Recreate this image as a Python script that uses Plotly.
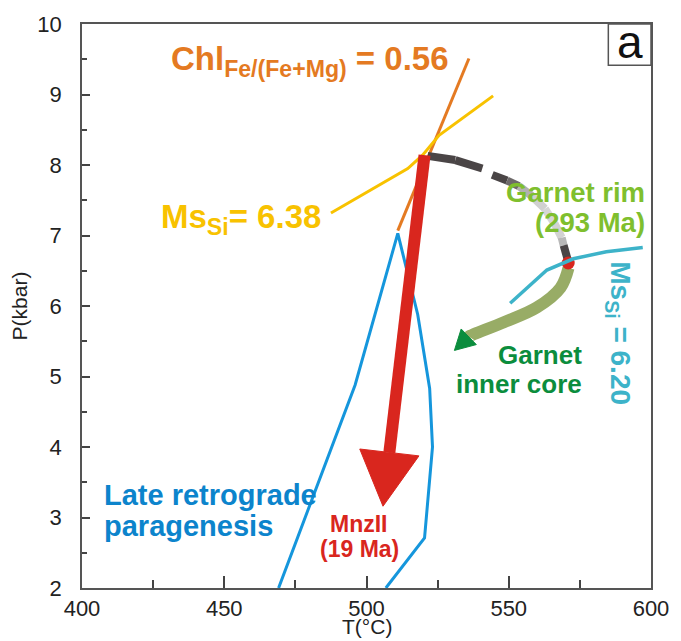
import numpy as np
import plotly.graph_objects as go

# ---- P–T data (T in °C, P in kbar) ----
chl_T = [511.0, 536.0]                      # Chl Fe/(Fe+Mg) = 0.56 isopleth
chl_P = [7.07, 9.51]

ms638_T = [487.5, 514.5, 519.7, 525.5, 544.5]   # Ms Si = 6.38 isopleth
ms638_P = [7.32, 7.95, 8.14, 8.42, 8.98]

ms620_T = [550.5, 563.4, 572.7, 584.3, 597.1]   # Ms Si = 6.20 isopleth
ms620_P = [6.04, 6.51, 6.67, 6.77, 6.83]

late_T = [469.1, 496.0, 511.0, 518.0, 522.2, 523.2, 520.4, 506.8]  # late retrograde field
late_P = [2.00, 4.88, 7.03, 5.88, 4.83, 4.00, 2.71, 2.00]

arc_T = [521.5, 531.2, 540.7, 544.2, 549.4, 553.6, 558.1, 562.7, 566.1, 568.6, 569.3, 570.7]  # garnet P–T loop
arc_P = [8.13, 8.07, 7.95, 7.86, 7.78, 7.70, 7.56, 7.38, 7.17, 6.97, 6.86, 6.66]

peak_T = [570.9]                            # garnet rim (293 Ma)
peak_P = [6.61]

core_T = [571.0, 568.2, 559.9, 548.3, 536.1, 530.9]   # toward garnet inner core
core_P = [6.54, 6.26, 5.98, 5.77, 5.57, 5.37]

mnz_T = [520.4, 505.8]                      # MnzII (19 Ma) path
mnz_P = [8.14, 3.16]

x_ticks = [400, 450, 500, 550, 600]
y_ticks = [2, 3, 4, 5, 6, 7, 8, 9, 10]

# ---- styling ----
W, H = 681, 641
ML, MR, MT, MB = 82, 26, 15, 53
XR = (400, 600)
YR = (2, 10)
PW, PH = W - ML - MR, H - MT - MB

ORANGE = '#e47a22'
YELLOW = '#f8c200'
CYAN = '#3db3c9'
BLUE = '#1596dc'
BLUE_TXT = '#0c84cc'
RED = '#d9261e'
OLIVE = '#98ac66'
DKGREEN = '#0b8d3d'
LTGREEN = '#7fbf2e'
DARK = '#4a4546'
FONT = 'Liberation Sans, Arial, sans-serif'

arc_seg_colors = [DARK, DARK, None, DARK, '#6e6a6a', '#b2b1b1', '#d0d0d0',
                  '#d6d6d6', '#d2d2d2', '#b8b8b8', DARK]


def to_px(t, p):
    return (ML + (t - XR[0]) / (XR[1] - XR[0]) * PW,
            MT + (YR[1] - p) / (YR[1] - YR[0]) * PH)


def to_data(x, y):
    return (XR[0] + (x - ML) / PW * (XR[1] - XR[0]),
            YR[1] - (y - MT) / PH * (YR[1] - YR[0]))


def arrow_parts(T, P, head_len, head_w):
    """Shaft (ending at head base) and triangular head polygon for a path."""
    tx, ty = to_px(T[-1], P[-1])
    qx, qy = to_px(T[-2], P[-2])
    d = np.array([tx - qx, ty - qy])
    d /= np.hypot(*d)
    n = np.array([-d[1], d[0]])
    base = np.array([tx, ty]) - head_len * d
    c1 = base + n * head_w / 2
    c2 = base - n * head_w / 2
    poly = [to_data(*c1), (T[-1], P[-1]), to_data(*c2), to_data(*c1)]
    bt, bp = to_data(*base)
    shaft_T = list(T[:-1]) + [bt]
    shaft_P = list(P[:-1]) + [bp]
    return shaft_T, shaft_P, [q[0] for q in poly], [q[1] for q in poly]


fig = go.Figure()

# late retrograde paragenesis field
fig.add_trace(go.Scatter(x=late_T, y=late_P, mode='lines',
                         line=dict(color=BLUE, width=3)))
# isopleths
fig.add_trace(go.Scatter(x=chl_T, y=chl_P, mode='lines',
                         line=dict(color=ORANGE, width=3)))
fig.add_trace(go.Scatter(x=ms638_T, y=ms638_P, mode='lines',
                         line=dict(color=YELLOW, width=3)))

# garnet P–T loop, shaded segment by segment
for i, col in enumerate(arc_seg_colors):
    if col is None:
        continue
    fig.add_trace(go.Scatter(x=arc_T[i:i + 2], y=arc_P[i:i + 2], mode='lines',
                             line=dict(color=col, width=8)))

# retrograde garnet path toward inner core
cs_T, cs_P, ch_T, ch_P = arrow_parts(core_T, core_P, 20, 22)
fig.add_trace(go.Scatter(x=cs_T, y=cs_P, mode='lines', line_shape='spline',
                         line=dict(color=OLIVE, width=12)))
fig.add_trace(go.Scatter(x=ch_T, y=ch_P, mode='lines', fill='toself',
                         fillcolor=DKGREEN, line=dict(color=DKGREEN, width=1)))

# garnet rim peak
fig.add_trace(go.Scatter(x=peak_T, y=peak_P, mode='markers',
                         marker=dict(color=RED, size=13, line=dict(width=0))))

fig.add_trace(go.Scatter(x=ms620_T, y=ms620_P, mode='lines',
                         line=dict(color=CYAN, width=3.5)))

# MnzII arrow
ms_T, ms_P, mh_T, mh_P = arrow_parts(mnz_T, mnz_P, 55, 60)
fig.add_trace(go.Scatter(x=ms_T, y=ms_P, mode='lines',
                         line=dict(color=RED, width=12)))
fig.add_trace(go.Scatter(x=mh_T, y=mh_P, mode='lines', fill='toself',
                         fillcolor=RED, line=dict(color=RED, width=1)))

axis_common = dict(showline=True, linecolor='#555555', linewidth=1.5, mirror=True,
                   showgrid=False, zeroline=False, ticks='inside', tickcolor='#444444',
                   tickwidth=1.5, tickfont=dict(size=22, color='#222222', family=FONT))

fig.update_xaxes(range=list(XR), tickvals=x_ticks, ticklen=12, ticklabelstandoff=0,
                 minor=dict(ticks='inside', ticklen=8, dtick=25, tick0=400,
                            tickcolor='#444444', tickwidth=1.5, showgrid=False),
                 **axis_common)
fig.update_yaxes(range=list(YR), tickvals=y_ticks, ticklen=8, ticklabelstandoff=14,
                 minor=dict(ticks='inside', ticklen=5, dtick=0.5, tick0=2,
                            tickcolor='#444444', tickwidth=1.5, showgrid=False),
                 **axis_common)


def label(text, x, y, color, size, xanchor='left', yanchor='middle', angle=0, ref='data'):
    fig.add_annotation(text=text, x=x, y=y,
                       xref='x' if ref == 'data' else 'paper',
                       yref='y' if ref == 'data' else 'paper',
                       xanchor=xanchor, yanchor=yanchor, showarrow=False,
                       textangle=angle,
                       font=dict(family=FONT, size=size, color=color))


B = lambda s: '<b>' + s + '</b>'

label(B('Chl<sub>Fe/(Fe+Mg)</sub> = 0.56'), 430.7, 9.47, ORANGE, 33)
label(B('Ms<sub>Si</sub>= 6.38'), 427.2, 7.24, YELLOW, 33)
label(B('Garnet rim'), 598.5, 7.61, LTGREEN, 27.5, xanchor='right')
label(B('(293 Ma)'), 598.5, 7.19, LTGREEN, 27.5, xanchor='right')
label(B('Garnet'), 576.6, 5.31, DKGREEN, 26, xanchor='right')
label(B('inner core'), 576.6, 4.90, DKGREEN, 26, xanchor='right')
label(B('Ms<sub>Si</sub> = 6.20'), 588.6, 5.62, CYAN, 28, xanchor='center', angle=90)
label(B('MnzII'), 497.4, 2.91, RED, 23, xanchor='center')
label(B('(19 Ma)'), 497.4, 2.56, RED, 23, xanchor='center')
label(B('Late retrograde'), 407.0, 3.32, BLUE_TXT, 29)
label(B('paragenesis'), 407.0, 2.88, BLUE_TXT, 29)

# axis titles
label('T(°C)', 0.5, -0.068, '#222222', 21, xanchor='center', ref='paper')
label('P(kbar)', -0.11, 0.5, '#222222', 21, xanchor='center', angle=-90, ref='paper')

# panel letter
fig.add_shape(type='rect', xref='paper', yref='paper', x0=0.925, x1=1.0, y0=0.927, y1=1.0,
              line=dict(color='#555555', width=1.5), fillcolor='white')
label('a', 0.9625, 0.968, '#111111', 46, xanchor='center', ref='paper')

fig.update_layout(width=W, height=H, margin=dict(l=ML, r=MR, t=MT, b=MB),
                  plot_bgcolor='white', paper_bgcolor='white', showlegend=False,
                  font=dict(family=FONT))

fig.write_html('out.html')
